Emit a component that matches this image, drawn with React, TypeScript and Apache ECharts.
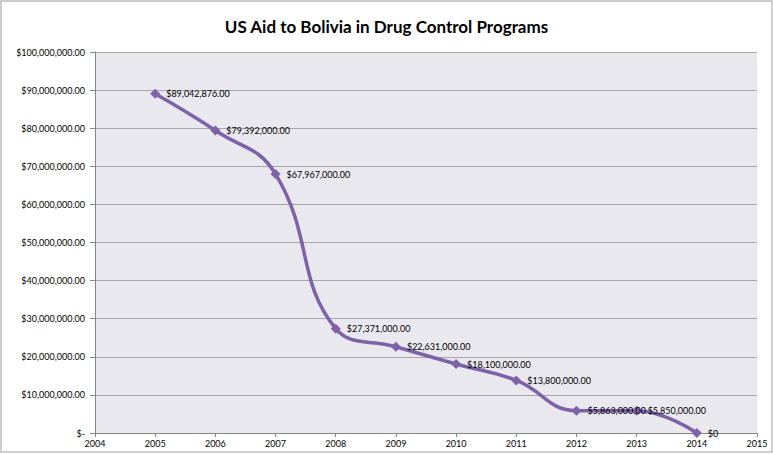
import React, { useEffect, useRef } from "react";
import * as echarts from "echarts";

const years = [2005, 2006, 2007, 2008, 2009, 2010, 2011, 2012, 2013, 2014];
const aid = [89042876, 79392000, 67967000, 27371000, 22631000, 18100000, 13800000, 5863000, 5850000, 0];
const xTicks = [2004, 2005, 2006, 2007, 2008, 2009, 2010, 2011, 2012, 2013, 2014, 2015];

const fmtMoney = (v: number) =>
  "$" + v.toLocaleString("en-US", { minimumFractionDigits: 2, maximumFractionDigits: 2 });

export default function App() {
  const ref = useRef<HTMLDivElement>(null);
  useEffect(() => {
    document.body.style.margin = "0";
    const chart = echarts.init(ref.current!, null, { renderer: "svg" });
    chart.setOption({
      animation: false,
      backgroundColor: "#ffffff",
      title: {
        text: "US Aid to Bolivia in Drug Control Programs",
        left: "center",
        top: 13,
        textStyle: { fontFamily: "Lato", fontWeight: "bold", fontSize: 17, color: "#000" },
      },
      graphic: [
        {
          type: "rect",
          shape: { x: 1, y: 1, width: 771, height: 451 },
          style: { fill: "none", stroke: "#bdbdbd", lineWidth: 1.5 },
          silent: true,
        },
      ],
      grid: { left: 95, right: 16, top: 52, bottom: 21, show: true, backgroundColor: "#EAE8EF", borderWidth: 0 },
      xAxis: {
        type: "value",
        min: xTicks[0],
        max: xTicks[xTicks.length - 1],
        interval: 1,
        axisLine: { show: true, lineStyle: { color: "#868686", width: 1 } },
        axisTick: { show: true, length: 4, lineStyle: { color: "#868686" } },
        splitLine: { show: false },
        axisLabel: { fontFamily: "Lato", fontSize: 9, color: "#000", margin: 6, formatter: (v: number) => String(v) },
      },
      yAxis: {
        type: "value",
        min: 0,
        max: 100000000,
        interval: 10000000,
        axisLine: { show: true, lineStyle: { color: "#868686", width: 1 } },
        axisTick: { show: true, length: 5, lineStyle: { color: "#868686" } },
        splitLine: { show: true, lineStyle: { color: "#A6A6A6", width: 1.2 } },
        axisLabel: {
          fontFamily: "Lato",
          fontSize: 9,
          color: "#000",
          margin: 10,
          formatter: (v: number) => (v === 0 ? "$-" : fmtMoney(v)),
        },
      },
      series: [
        {
          type: "line",
          data: years.map((y, i) => [y, aid[i]]),
          smooth: 0.45,
          symbol: "diamond",
          symbolSize: 10,
          lineStyle: { color: "#7E62A8", width: 3.5 },
          itemStyle: { color: "#7E62A8" },
          label: {
            show: true,
            position: "right",
            distance: 6,
            fontFamily: "Lato",
            fontSize: 9,
            color: "#000",
            formatter: (p: any) => (p.value[1] === 0 ? "$0" : fmtMoney(p.value[1])),
          },
        },
      ],
    });
    return () => chart.dispose();
  }, []);
  return <div ref={ref} style={{ width: 773, height: 454 }} />;
}
